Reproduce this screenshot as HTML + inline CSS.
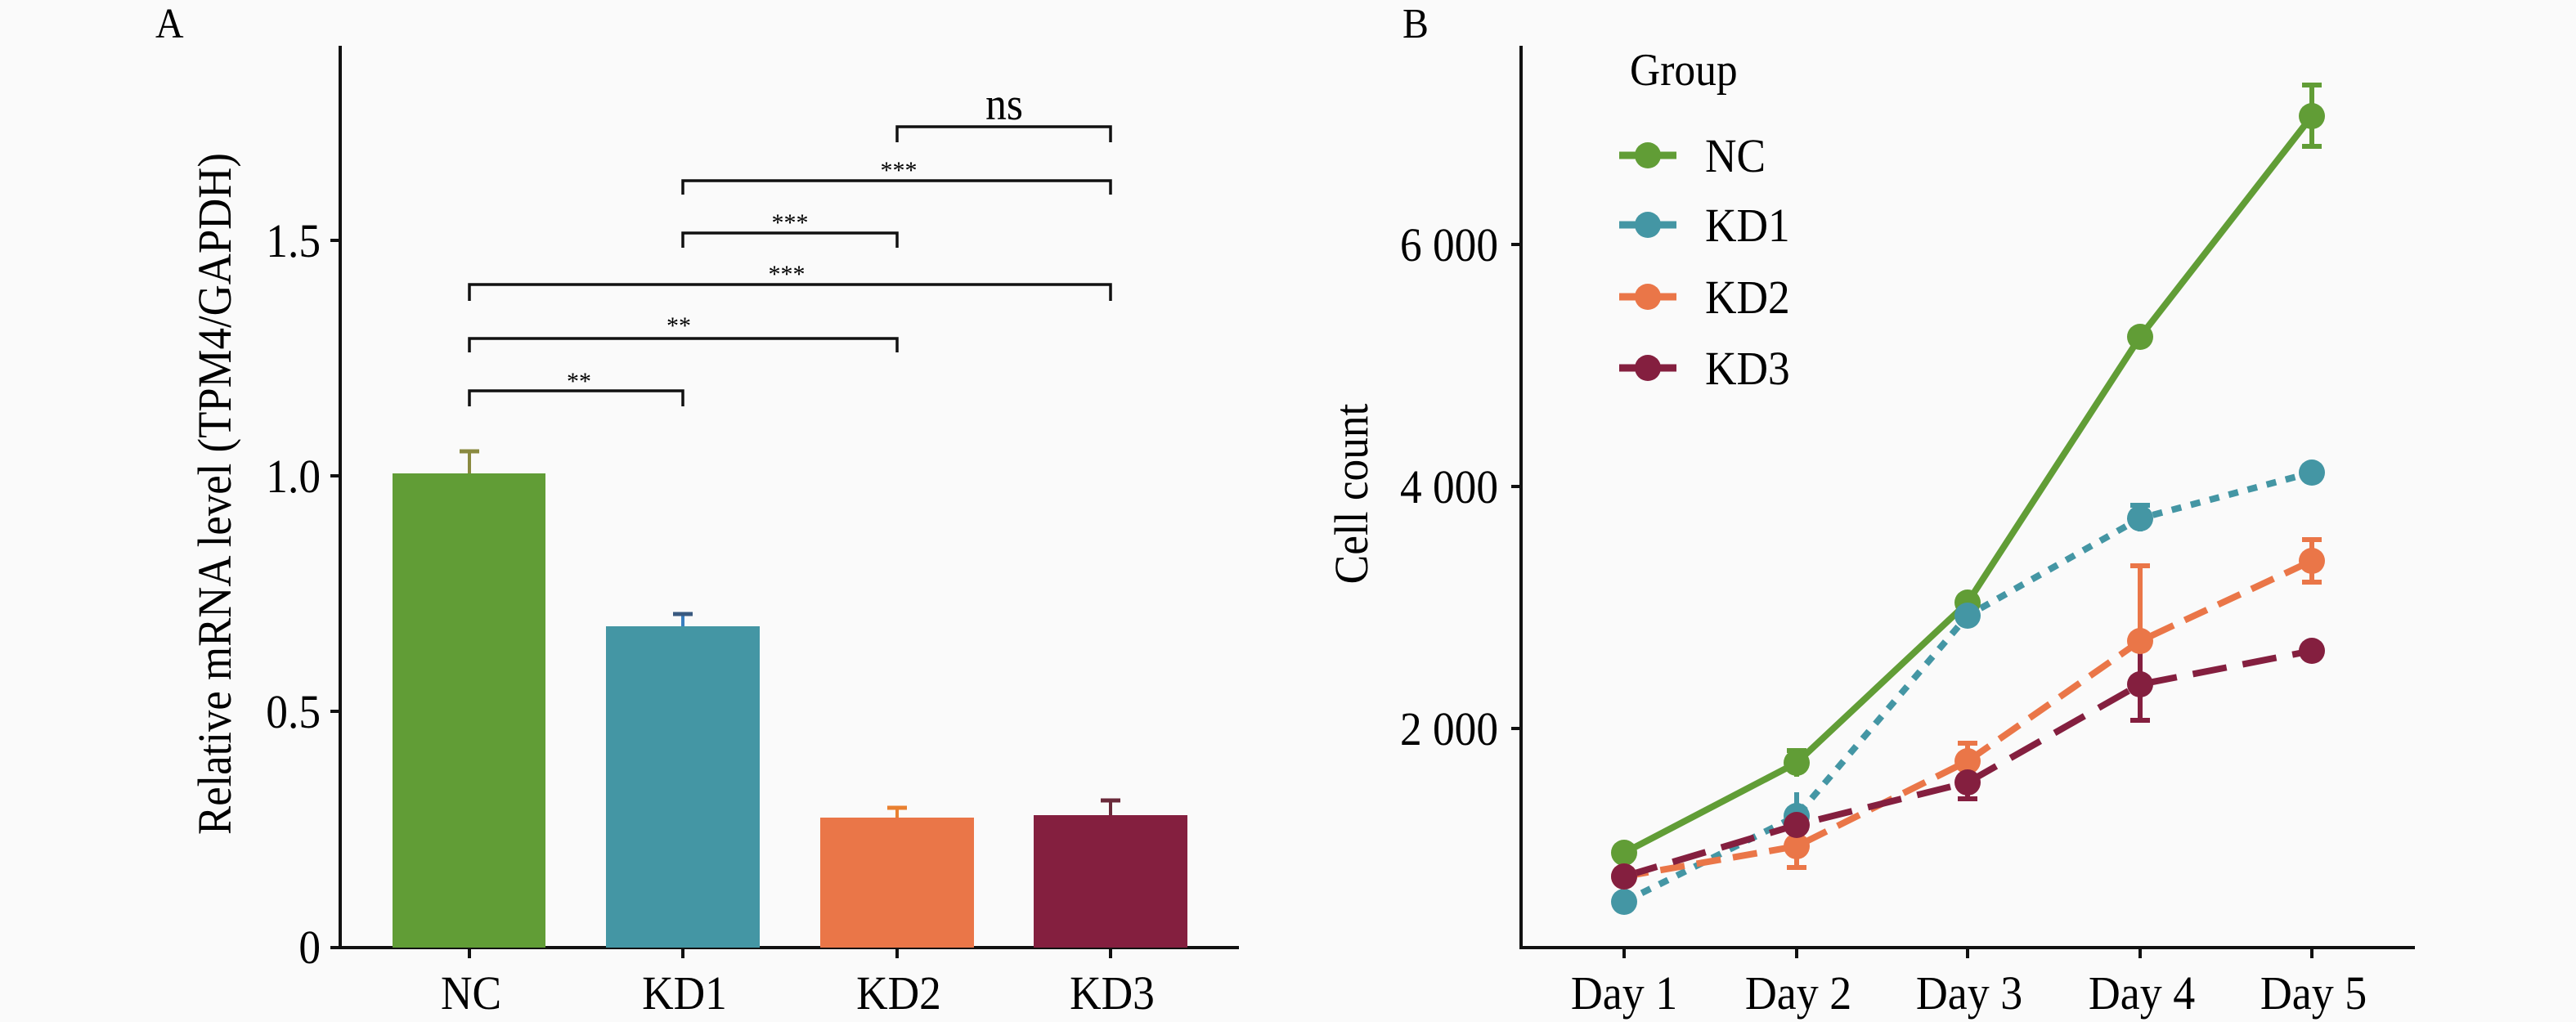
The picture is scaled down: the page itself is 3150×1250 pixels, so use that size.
<!DOCTYPE html>
<html><head><meta charset="utf-8"><style>
html,body{margin:0;padding:0;background:#fafafa;}
svg{display:block;font-family:"Liberation Serif",serif;}
</style></head><body>
<svg width="3150" height="1250" viewBox="0 0 3150 1250" xmlns="http://www.w3.org/2000/svg">
<rect width="3150" height="1250" fill="#fafafa"/>
<!-- Panel A -->
<text transform="translate(190,46) scale(0.92,1)" font-size="52">A</text>
<g stroke="#111" stroke-width="4" fill="none">
<line x1="416" y1="56" x2="416" y2="1160"/>
<line x1="404" y1="1159" x2="1515" y2="1159"/>
<line x1="404" y1="870" x2="416" y2="870"/>
<line x1="404" y1="582" x2="416" y2="582"/>
<line x1="404" y1="294" x2="416" y2="294"/>
<line x1="574" y1="1159" x2="574" y2="1172"/>
<line x1="835" y1="1159" x2="835" y2="1172"/>
<line x1="1097" y1="1159" x2="1097" y2="1172"/>
<line x1="1358" y1="1159" x2="1358" y2="1172"/>
</g>
<g font-size="58" text-anchor="end">
<text transform="translate(392,1178) scale(0.92,1)">0</text>
<text transform="translate(392,890) scale(0.92,1)">0.5</text>
<text transform="translate(392,602) scale(0.92,1)">1.0</text>
<text transform="translate(392,314) scale(0.92,1)">1.5</text>
</g>
<g font-size="58" text-anchor="middle">
<text transform="translate(576,1234) scale(0.92,1)">NC</text>
<text transform="translate(837,1234) scale(0.92,1)">KD1</text>
<text transform="translate(1099,1234) scale(0.92,1)">KD2</text>
<text transform="translate(1360,1234) scale(0.92,1)">KD3</text>
</g>
<text transform="translate(282,604) rotate(-90) scale(0.91,1)" font-size="58" text-anchor="middle">Relative mRNA level (TPM4/GAPDH)</text>
<!-- bars -->
<rect x="480" y="579" width="187" height="580" fill="#619D36"/>
<rect x="741" y="766" width="188" height="393" fill="#4496A4"/>
<rect x="1003" y="1000" width="188" height="159" fill="#EA7648"/>
<rect x="1264" y="997" width="188" height="162" fill="#841F3F"/>
<g stroke-width="4">
<line x1="574" y1="579" x2="574" y2="552" stroke="#8a8a40"/><line x1="562" y1="552" x2="586" y2="552" stroke="#8a8a40" stroke-width="5"/>
<line x1="835" y1="766" x2="835" y2="751" stroke="#3a7fc0"/><line x1="823" y1="751" x2="847" y2="751" stroke="#3a5a80" stroke-width="5"/>
<line x1="1097" y1="1000" x2="1097" y2="988" stroke="#E98030"/><line x1="1085" y1="988" x2="1109" y2="988" stroke="#E98030" stroke-width="5"/>
<line x1="1358" y1="997" x2="1358" y2="979" stroke="#6a2a3a"/><line x1="1346" y1="979" x2="1370" y2="979" stroke="#6a2a3a" stroke-width="5"/>
</g>
<!-- brackets -->
<g stroke="#111" stroke-width="3.5" fill="none">
<polyline points="1097,174 1097,155 1358,155 1358,174"/>
<polyline points="835,238 835,221 1358,221 1358,238"/>
<polyline points="835,303 835,285 1097,285 1097,303"/>
<polyline points="574,368 574,348 1358,348 1358,368"/>
<polyline points="574,431 574,414 1097,414 1097,431"/>
<polyline points="574,497 574,478 835,478 835,497"/>
</g>
<g font-size="30" text-anchor="middle">
<text x="1099" y="218">***</text>
<text x="966" y="282">***</text>
<text x="962" y="345">***</text>
<text x="830" y="408">**</text>
<text x="708" y="476">**</text>
</g>
<text transform="translate(1228,146) scale(0.92,1)" font-size="56" text-anchor="middle">ns</text>

<!-- Panel B -->
<text transform="translate(1715,46) scale(0.92,1)" font-size="52">B</text>
<g stroke="#111" stroke-width="4" fill="none">
<line x1="1860" y1="56" x2="1860" y2="1161"/>
<line x1="1858" y1="1159" x2="2953" y2="1159"/>
<line x1="1848" y1="299" x2="1860" y2="299"/>
<line x1="1848" y1="595" x2="1860" y2="595"/>
<line x1="1848" y1="891" x2="1860" y2="891"/>
<line x1="1986" y1="1159" x2="1986" y2="1172"/>
<line x1="2197" y1="1159" x2="2197" y2="1172"/>
<line x1="2406" y1="1159" x2="2406" y2="1172"/>
<line x1="2617" y1="1159" x2="2617" y2="1172"/>
<line x1="2827" y1="1159" x2="2827" y2="1172"/>
</g>
<g font-size="58" text-anchor="end">
<text transform="translate(1832,319) scale(0.92,1)">6 000</text>
<text transform="translate(1832,615) scale(0.92,1)">4 000</text>
<text transform="translate(1832,911) scale(0.92,1)">2 000</text>
</g>
<g font-size="58" text-anchor="middle">
<text transform="translate(1986,1234) scale(0.93,1)">Day 1</text>
<text transform="translate(2199,1234) scale(0.93,1)">Day 2</text>
<text transform="translate(2408,1234) scale(0.93,1)">Day 3</text>
<text transform="translate(2619,1234) scale(0.93,1)">Day 4</text>
<text transform="translate(2829,1234) scale(0.93,1)">Day 5</text>
</g>
<text transform="translate(1672,604) rotate(-90) scale(0.92,1)" font-size="58" text-anchor="middle">Cell count</text>

<!-- error bars -->
<g stroke-width="6">
<g stroke="#619D36"><line x1="2827" y1="104" x2="2827" y2="179"/><line x1="2815" y1="104" x2="2839" y2="104"/><line x1="2815" y1="179" x2="2839" y2="179"/>
<line x1="2197" y1="918" x2="2197" y2="950"/><line x1="2185" y1="918" x2="2209" y2="918"/></g>
<g stroke="#4496A4"><line x1="2617" y1="618" x2="2617" y2="650"/><line x1="2605" y1="618" x2="2629" y2="618"/>
<line x1="2197" y1="969" x2="2197" y2="1005"/></g>
<g stroke="#EA7648"><line x1="2617" y1="692" x2="2617" y2="790"/><line x1="2605" y1="692" x2="2629" y2="692"/>
<line x1="2827" y1="660" x2="2827" y2="712"/><line x1="2815" y1="660" x2="2839" y2="660"/><line x1="2815" y1="712" x2="2839" y2="712"/>
<line x1="2406" y1="909" x2="2406" y2="953"/><line x1="2394" y1="909" x2="2418" y2="909"/>
<line x1="2197" y1="1017" x2="2197" y2="1061"/><line x1="2185" y1="1061" x2="2209" y2="1061"/></g>
<g stroke="#841F3F"><line x1="2617" y1="797" x2="2617" y2="881"/><line x1="2605" y1="881" x2="2629" y2="881"/>
<line x1="2406" y1="937" x2="2406" y2="977"/><line x1="2394" y1="977" x2="2418" y2="977"/></g>
</g>
<!-- lines -->
<g fill="none" stroke-width="8">
<polyline points="1986,1043 2197,933 2406,737 2617,412 2827,142" stroke="#619D36"/>
<polyline points="1986,1103 2197,998 2406,753 2617,634 2827,578" stroke="#4496A4" stroke-dasharray="12 12"/>
<polyline points="1986,1072 2197,1035 2406,931 2617,784 2827,686" stroke="#EA7648" stroke-dasharray="30 15"/>
<polyline points="1986,1072 2197,1009 2406,957 2617,837 2827,796" stroke="#841F3F" stroke-dasharray="42 20"/>
</g>
<g>
<g fill="#619D36"><circle cx="1986" cy="1043" r="16"/><circle cx="2197" cy="933" r="16"/><circle cx="2406" cy="737" r="16"/><circle cx="2617" cy="412" r="16"/><circle cx="2827" cy="142" r="16"/></g>
<g fill="#4496A4"><circle cx="1986" cy="1103" r="16"/><circle cx="2197" cy="998" r="16"/><circle cx="2406" cy="753" r="16"/><circle cx="2617" cy="634" r="16"/><circle cx="2827" cy="578" r="16"/></g>
<g fill="#EA7648"><circle cx="1986" cy="1072" r="16"/><circle cx="2197" cy="1035" r="16"/><circle cx="2406" cy="931" r="16"/><circle cx="2617" cy="784" r="16"/><circle cx="2827" cy="686" r="16"/></g>
<g fill="#841F3F"><circle cx="1986" cy="1072" r="16"/><circle cx="2197" cy="1009" r="16"/><circle cx="2406" cy="957" r="16"/><circle cx="2617" cy="837" r="16"/><circle cx="2827" cy="796" r="16"/></g>
</g>
<!-- legend -->
<text transform="translate(1993,104) scale(0.92,1)" font-size="56">Group</text>
<g stroke-width="9">
<line x1="1980" y1="190" x2="2050" y2="190" stroke="#619D36"/>
<line x1="1980" y1="275" x2="2050" y2="275" stroke="#4496A4"/>
<line x1="1980" y1="363" x2="2050" y2="363" stroke="#EA7648"/>
<line x1="1980" y1="450" x2="2050" y2="450" stroke="#841F3F"/>
</g>
<circle cx="2015" cy="190" r="16" fill="#619D36"/>
<circle cx="2015" cy="275" r="16" fill="#4496A4"/>
<circle cx="2015" cy="363" r="16" fill="#EA7648"/>
<circle cx="2015" cy="450" r="16" fill="#841F3F"/>
<g font-size="58">
<text transform="translate(2085,210) scale(0.92,1)">NC</text>
<text transform="translate(2085,295) scale(0.92,1)">KD1</text>
<text transform="translate(2085,383) scale(0.92,1)">KD2</text>
<text transform="translate(2085,470) scale(0.92,1)">KD3</text>
</g>
</svg>
</body></html>
